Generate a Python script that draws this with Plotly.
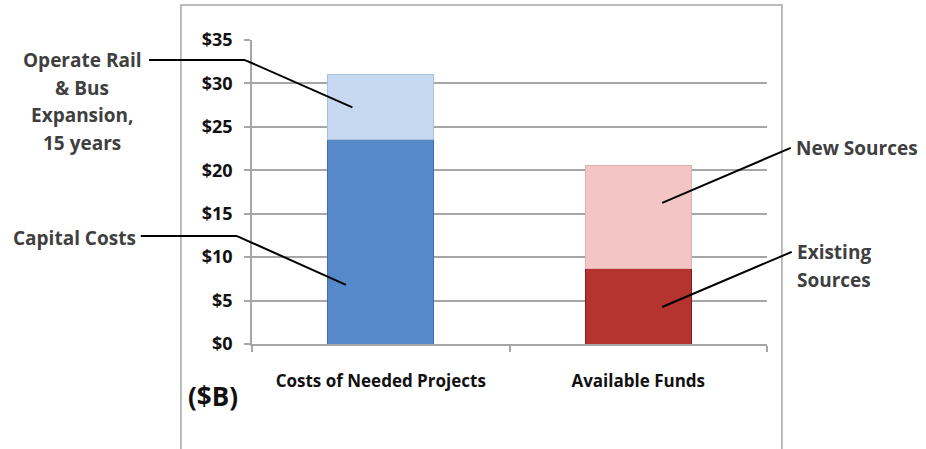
import plotly.graph_objects as go

# Funding comparison, billions of dollars
categories = ["Costs of Needed Projects", "Available Funds"]
capital_costs = [23.5, None]
operate_expansion = [7.5, None]
existing_sources = [None, 8.7]
new_sources = [None, 11.8]
y_ticks = [0, 5, 10, 15, 20, 25, 30, 35]
y_tick_text = ["$" + str(v) for v in y_ticks]

Y_MAX = 35
FONT = "'Open Sans', sans-serif"
LABEL_COLOR = "#3f3f3f"
GRID = "#a6a6a6"

fig = go.Figure()

series = [
    ("Capital Costs", capital_costs, "#5689c9", "#3f6fae"),
    ("Operate Rail & Bus Expansion, 15 years", operate_expansion, "#c6d9f1", "#a9bfdc"),
    ("Existing Sources", existing_sources, "#b5342f", "#7e1e1b"),
    ("New Sources", new_sources, "#f3c5c5", "#dfb0b0"),
]
for name, vals, fill, edge in series:
    fig.add_trace(go.Bar(
        x=categories, y=vals, name=name, width=0.41,
        marker=dict(color=fill, line=dict(color=edge, width=1)),
        hoverinfo="name+y",
    ))

fig.update_layout(
    width=926, height=449,
    margin=dict(l=252, r=159, t=40, b=105),
    barmode="stack",
    showlegend=False,
    plot_bgcolor="white",
    paper_bgcolor="white",
    font=dict(family=FONT, color="#111111"),
    xaxis=dict(
        range=[-0.5, 1.5], showgrid=False, showline=True, linecolor=GRID, linewidth=1.5,
        ticks="outside", tickson="boundaries", ticklen=6, tickcolor=GRID, tickwidth=1.5,
        ticklabelstandoff=21,
        tickfont=dict(size=17, family=FONT, color="#111111", weight="bold"),
    ),
    yaxis=dict(
        range=[0, Y_MAX], tickvals=y_ticks, ticktext=y_tick_text,
        showgrid=True, gridcolor=GRID, gridwidth=1.5,
        showline=True, linecolor=GRID, linewidth=1.5, zeroline=False,
        ticks="outside", ticklen=6, tickcolor=GRID, tickwidth=1.5,
        ticklabelstandoff=8,
        tickfont=dict(size=18, family=FONT, color="#111111", weight="bold"),
    ),
)

# helpers mapping data to paper coordinates of the plot area
def px(cat_index, offset):
    return (cat_index + 0.5 + offset) / 2.0

def py(value):
    return value / Y_MAX

PLOT_TOP, PLOT_H = 40, 304
def py_pix(pixel_row):
    return (PLOT_TOP + PLOT_H - pixel_row) / PLOT_H

line_style = dict(color="black", width=2)

# outer frame
fig.add_shape(type="rect", xref="paper", yref="paper",
              x0=-0.138, x1=1.029, y0=-0.40, y1=1.115,
              line=dict(color=GRID, width=1.5), fillcolor="rgba(0,0,0,0)", layer="below")

# points inside the stacked segments the leaders point to
cap_pt = (px(0, -0.135), py(capital_costs[0] * 0.29))
op_pt = (px(0, -0.11), py(capital_costs[0] + operate_expansion[0] * 0.5))
new_pt = (px(1, 0.093), py(existing_sources[1] + new_sources[1] * 0.64))
ex_pt = (px(1, 0.093), py(existing_sources[1] * 0.49))

# Operate label leader
fig.add_shape(type="line", xref="paper", yref="paper", x0=-0.200, x1=-0.0136, y0=0.934, y1=0.934, line=line_style)
fig.add_shape(type="line", xref="paper", yref="paper", x0=-0.0136, y0=0.934, x1=op_pt[0], y1=op_pt[1], line=line_style)
# Capital label leader
fig.add_shape(type="line", xref="paper", yref="paper", x0=-0.216, x1=-0.029, y0=0.355, y1=0.355, line=line_style)
fig.add_shape(type="line", xref="paper", yref="paper", x0=-0.029, y0=0.355, x1=cap_pt[0], y1=cap_pt[1], line=line_style)
# New sources leader
fig.add_shape(type="line", xref="paper", yref="paper", x0=new_pt[0], y0=new_pt[1], x1=1.046, y1=0.645, line=line_style)
# Existing sources leader
fig.add_shape(type="line", xref="paper", yref="paper", x0=ex_pt[0], y0=ex_pt[1], x1=1.048, y1=0.303, line=line_style)

ann_font = dict(family=FONT, size=19, color=LABEL_COLOR, weight="bold")

operate_lines = ["Operate Rail", "& Bus", "Expansion,", "15 years"]
for i, line in enumerate(operate_lines):
    fig.add_annotation(xref="paper", yref="paper", x=-0.330, y=py_pix(60 + 27.5 * i),
                       xanchor="center", yanchor="middle", text=line, showarrow=False, font=ann_font)

fig.add_annotation(xref="paper", yref="paper", x=-0.222, y=py_pix(238), xanchor="right", yanchor="middle",
                   text="Capital Costs", showarrow=False, font=ann_font)
fig.add_annotation(xref="paper", yref="paper", x=1.052, y=py_pix(148), xanchor="left", yanchor="middle",
                   text="New Sources", showarrow=False, font=ann_font)
for i, line in enumerate(["Existing", "Sources"]):
    fig.add_annotation(xref="paper", yref="paper", x=1.054, y=py_pix(252 + 28 * i), xanchor="left",
                       yanchor="middle", text=line, showarrow=False, font=ann_font)
fig.add_annotation(xref="paper", yref="paper", x=-0.075, y=py_pix(396), xanchor="center", yanchor="middle",
                   text="($B)", showarrow=False,
                   font=dict(family=FONT, size=26, color="#111111", weight="bold"))

fig.write_html("out.html")
